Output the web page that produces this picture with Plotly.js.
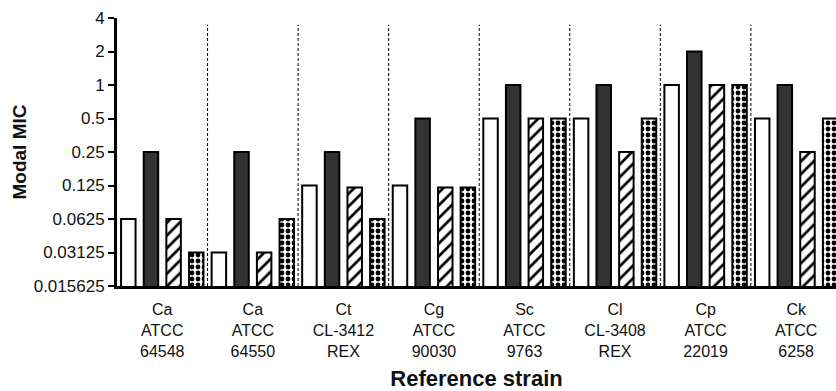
<!DOCTYPE html>
<html>
<head>
<meta charset="utf-8">
<script src="https://cdn.plot.ly/plotly-3.0.1.min.js"></script>
<style>html,body{margin:0;padding:0;background:#fff;}#chart{width:836px;height:391px;}</style>
</head>
<body>
<div id="chart"></div>
<script>
const strains = ["Ca<br>ATCC<br>64548", "Ca<br>ATCC<br>64550", "Ct<br>CL-3412<br>REX", "Cg<br>ATCC<br>90030", "Sc<br>ATCC<br>9763", "Cl<br>CL-3408<br>REX", "Cp<br>ATCC<br>22019", "Ck<br>ATCC<br>6258"];
const seriesWhite = [0.0625, 0.03125, 0.125, 0.125, 0.5, 0.5, 1, 0.5];
const seriesBlack = [0.25, 0.25, 0.25, 0.5, 1, 1, 2, 1];
const seriesHatched = [0.0625, 0.03125, 0.12, 0.12, 0.5, 0.25, 1, 0.25];
const seriesChecked = [0.03125, 0.0625, 0.0625, 0.12, 0.5, 0.5, 1, 0.5];
const yTickVals = [0.015625, 0.03125, 0.0625, 0.125, 0.25, 0.5, 1, 2, 4];
const yTickText = ["0.015625", "0.03125", "0.0625", "0.125", "0.25", "0.5", "1", "2", "4"];

const idx = strains.map((_, i) => i);
const outline = {color: "#000", width: 2};
const traces = [
  {type: "bar", x: idx, y: seriesWhite, marker: {color: "#fff", line: outline}},
  {type: "bar", x: idx, y: seriesBlack, marker: {color: "#333", line: outline}},
  {type: "bar", x: idx, y: seriesHatched, marker: {color: "#fff", line: outline,
    pattern: {shape: "/", fgcolor: "#000", bgcolor: "#fff", size: 9, solidity: 0.3}}},
  {type: "bar", x: idx, y: seriesChecked, marker: {color: "#fff", line: outline,
    pattern: {shape: ".", fgcolor: "#000", bgcolor: "#fff", size: 6, solidity: 0.5}}}
];

const shapes = [];
for (let i = 0; i < strains.length - 1; i++) {
  shapes.push({type: "line", xref: "x", yref: "paper", x0: i + 0.5, x1: i + 0.5, y0: 0, y1: 0.975,
    line: {color: "#000", width: 1, dash: "3px,2px"}});
}

const layout = {
  width: 836, height: 391,
  margin: {l: 117, r: 0, t: 18, b: 105},
  paper_bgcolor: "#fff", plot_bgcolor: "#fff",
  showlegend: false,
  barmode: "group", bargap: 0.0, bargroupgap: 0.36,
  font: {family: "Liberation Sans, Arial, sans-serif", color: "#111"},
  xaxis: {
    range: [-0.5, 7.44], tickvals: idx, ticktext: strains,
    showline: true, linecolor: "#000", linewidth: 3, ticks: "",
    showgrid: false, zeroline: false,
    tickfont: {size: 16, color: "#111"}, ticklabelstandoff: 7,
    title: {text: "<b>Reference strain</b>", font: {size: 22, color: "#111"}, standoff: 14}
  },
  yaxis: {
    type: "log", range: [Math.log10(0.015625), Math.log10(4)],
    tickvals: yTickVals, ticktext: yTickText,
    showline: true, linecolor: "#000", linewidth: 3,
    ticks: "outside", ticklen: 6, tickwidth: 2, tickcolor: "#000",
    showgrid: false, zeroline: false,
    tickfont: {size: 17, color: "#111"},
    title: {text: "<b>Modal MIC</b>", font: {size: 19, color: "#111"}, standoff: 3}
  },
  shapes: shapes
};
Plotly.newPlot("chart", traces, layout, {displayModeBar: false, staticPlot: true});
</script>
</body>
</html>
